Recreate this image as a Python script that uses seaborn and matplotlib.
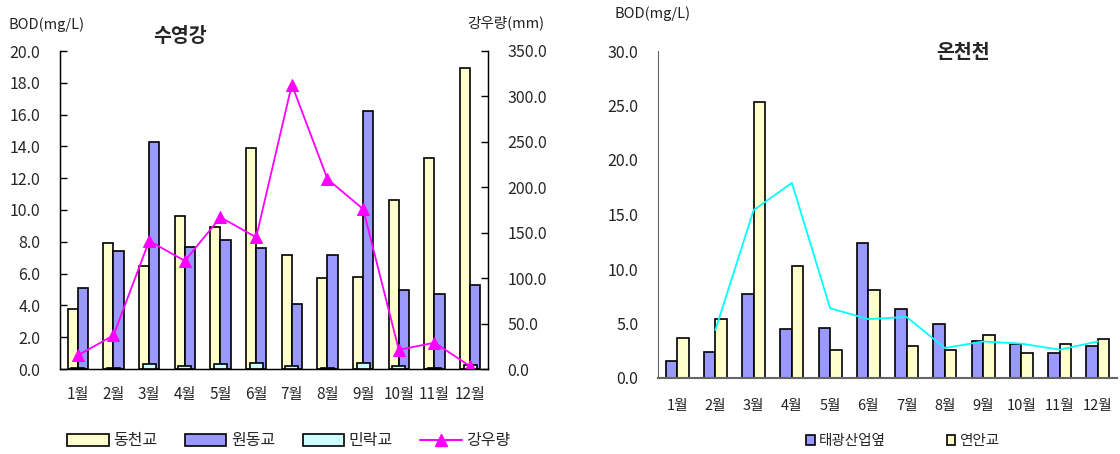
import numpy as np
import pandas as pd
import matplotlib
matplotlib.use('Agg')
import matplotlib.pyplot as plt
import seaborn as sns
from matplotlib.patches import Patch
from matplotlib.lines import Line2D

# ---------------- data ----------------
months = ['1월', '2월', '3월', '4월', '5월', '6월', '7월', '8월', '9월', '10월', '11월', '12월']

# 수영강 BOD (mg/L)
dongcheon = [3.8, 7.9, 6.5, 9.6, 8.9, 13.9, 7.2, 5.7, 5.8, 10.6, 13.3, 18.9]
wondong = [5.1, 7.4, 14.3, 7.7, 8.1, 7.6, 4.1, 7.2, 16.2, 5.0, 4.7, 5.3]
minrak = [0.04, 0.04, 0.3, 0.2, 0.3, 0.4, 0.17, 0.04, 0.38, 0.17, 0.04, 0.27]
# 강우량 (mm)
rain = [15, 37, 141, 119, 167, 145, 313, 209, 176, 21, 29, 3]

# 온천천 BOD (mg/L)
taegwang = [1.6, 2.4, 7.7, 4.5, 4.6, 12.4, 6.3, 5.0, 3.35, 3.15, 2.3, 2.9]
yeonan = [3.7, 5.4, 25.3, 10.3, 2.55, 8.1, 2.9, 2.6, 3.95, 2.3, 3.1, 3.6]
trend_months = months[1:]
trend = [4.4, 15.4, 17.9, 6.4, 5.4, 5.6, 2.75, 3.35, 3.15, 2.6, 3.35]

C_YEL = '#FFFFCC'
C_BLU = '#9999FF'
C_CYN = '#CCFFFF'
C_MAG = '#FF00FF'
C_LINE = '#00FFFF'

sns.set_style('white')
plt.rcParams['font.family'] = ['Noto Sans CJK KR', 'DejaVu Sans']

W, H = 1120, 454
fig = plt.figure(figsize=(W / 100, H / 100), dpi=100)

def px_axes(x0, y0, x1, y1):
    return fig.add_axes([x0 / W, 1 - y1 / H, (x1 - x0) / W, (y1 - y0) / H])

FS = 11.5

# ---------------- left chart ----------------
ax = px_axes(60, 51, 488, 369)
df_l = pd.DataFrame({
    'month': months * 2,
    'bod': dongcheon + wondong,
    'site': ['동천교'] * 12 + ['원동교'] * 12,
})
sns.barplot(data=df_l, x='month', y='bod', hue='site', order=months,
            hue_order=['동천교', '원동교'], palette=[C_YEL, C_BLU],
            width=0.57, saturation=1, edgecolor='black', linewidth=1.2,
            legend=False, ax=ax, zorder=2)
df_m = pd.DataFrame({'month': months, 'bod': minrak})
sns.barplot(data=df_m, x='month', y='bod', order=months, color=C_CYN,
            width=0.37, saturation=1, edgecolor='black', linewidth=1.2,
            ax=ax, zorder=3)
ax.set_xlim(-0.5, 11.5)
ax.set_ylim(0, 20)
ax.set_yticks(np.arange(0, 20.1, 2))
ax.set_yticklabels([f'{v:.1f}' for v in np.arange(0, 20.1, 2)])
ax.set_xlabel('')
ax.set_ylabel('')
ax.set_xticks(np.arange(-0.5, 12, 1), minor=True)
ax.tick_params(axis='x', which='major', length=0, pad=12, labelsize=FS - 0.5)
ax.tick_params(axis='x', which='minor', direction='in', length=4, width=1, color='black')
ax.tick_params(axis='y', direction='in', length=5, width=1, pad=14, labelsize=FS, color='black')
for s in ['left', 'bottom', 'right']:
    ax.spines[s].set_color('black')
    ax.spines[s].set_linewidth(1)
ax.spines['top'].set_visible(False)

ax2 = ax.twinx()
sns.lineplot(x=np.arange(12), y=rain, ax=ax2, color=C_MAG, marker='^',
             markersize=9, markeredgecolor=C_MAG, linewidth=1.3)
ax2.set_ylim(0, 350)
ax2.set_yticks(np.arange(0, 351, 50))
ax2.set_yticklabels([f'{v:.1f}' for v in np.arange(0, 351, 50)])
ax2.set_ylabel('')
ax2.tick_params(axis='y', direction='in', length=5, width=1, pad=14, labelsize=FS, color='black')
ax2.spines['top'].set_visible(False)
for s in ['left', 'bottom', 'right']:
    ax2.spines[s].set_color('black')
ax2.set_xlim(-0.5, 11.5)

fig.text(9 / W, 1 - 25 / H, 'BOD(mg/L)', fontsize=FS - 1, va='center', ha='left',
         color='#222222')
fig.text(544 / W, 1 - 23 / H, '강우량(mm)', fontsize=FS - 1, va='center', ha='right',
         color='#222222')
fig.text(180 / W, 1 - 36 / H, '수영강', fontsize=14, fontweight='bold', va='center', ha='center')

h_left = [Patch(facecolor=C_YEL, edgecolor='black', linewidth=1.2),
          Patch(facecolor=C_BLU, edgecolor='black', linewidth=1.2),
          Patch(facecolor=C_CYN, edgecolor='black', linewidth=1.2),
          Line2D([0], [0], color=C_MAG, marker='^', markersize=9, linewidth=1.5)]
fig.legend(h_left, ['동천교', '원동교', '민락교', '강우량'], loc='center',
           bbox_to_anchor=(289 / W, 1 - 441 / H), ncol=4, frameon=False,
           fontsize=FS, handlelength=2.6, handleheight=0.8, handletextpad=0.3,
           columnspacing=1.7)

# ---------------- right chart ----------------
bx = px_axes(658, 51, 1117, 378)
df_r = pd.DataFrame({
    'month': months * 2,
    'bod': taegwang + yeonan,
    'site': ['태광산업옆'] * 12 + ['연안교'] * 12,
})
sns.barplot(data=df_r, x='month', y='bod', hue='site', order=months,
            hue_order=['태광산업옆', '연안교'], palette=[C_BLU, C_YEL],
            width=0.6, saturation=1, edgecolor='black', linewidth=1.2,
            legend=False, ax=bx, zorder=2)
sns.lineplot(x=np.arange(1, 12), y=trend, ax=bx, color=C_LINE, linewidth=1.3, zorder=5)
bx.set_xlim(-0.5, 11.5)
bx.set_ylim(0, 30)
bx.set_yticks(np.arange(0, 30.1, 5))
bx.set_yticklabels([f'{v:.1f}' for v in np.arange(0, 30.1, 5)])
bx.set_xticks(np.arange(12))
bx.set_xticklabels(months)
bx.set_xlabel('')
bx.set_ylabel('')
bx.set_xticks(np.arange(-0.5, 12, 1), minor=True)
bx.tick_params(axis='x', which='major', length=0, pad=15, labelsize=FS - 1, labelcolor='#222222')
bx.tick_params(axis='x', which='minor', direction='in', length=4, width=1, color='#555555')
bx.tick_params(axis='y', direction='in', length=5, width=1, pad=14, labelsize=FS,
               color='#555555', labelcolor='#222222')
bx.spines['left'].set_color('#666666')
bx.spines['bottom'].set_color('#666666')
bx.spines['bottom'].set_linewidth(1.5)
bx.spines['top'].set_visible(False)
bx.spines['right'].set_visible(False)

fig.text(615 / W, 1 - 14 / H, 'BOD(mg/L)', fontsize=FS - 1, va='center', ha='left',
         color='#222222')
fig.text(963 / W, 1 - 52 / H, '온천천', fontsize=14, fontweight='bold', va='center', ha='center')

h_right = [Patch(facecolor=C_BLU, edgecolor='black', linewidth=1.2),
           Patch(facecolor=C_YEL, edgecolor='black', linewidth=1.2)]
fig.legend(h_right, ['태광산업옆', '연안교'], loc='center',
           bbox_to_anchor=(903 / W, 1 - 441 / H), ncol=2, frameon=False,
           fontsize=FS - 1, handlelength=0.55, handleheight=0.75, handletextpad=0.3,
           columnspacing=4.2)

fig.savefig('out.png', dpi=100)
